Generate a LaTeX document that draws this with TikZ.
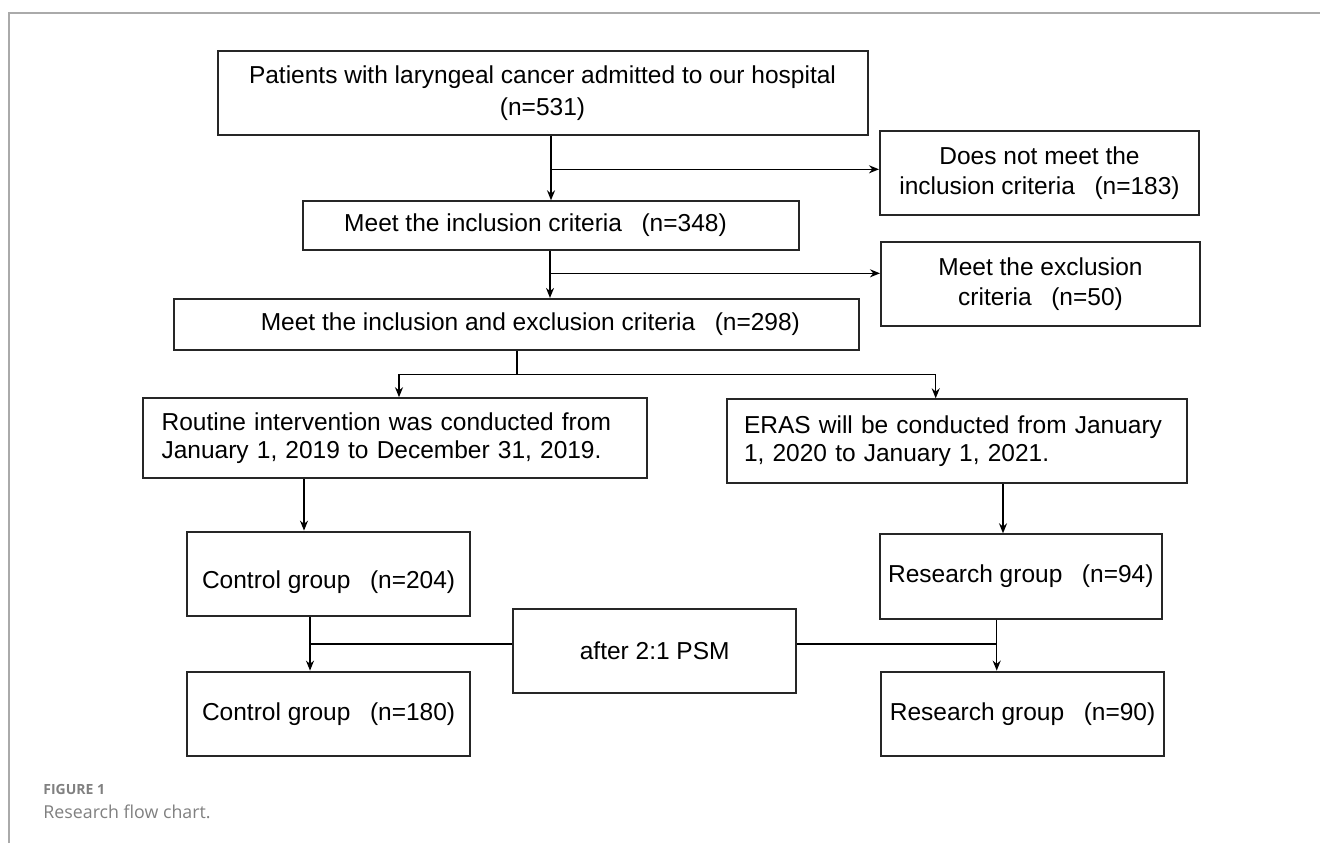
\documentclass[tikz,border=0pt]{standalone}
\usepackage{fontspec}
\setmainfont{Liberation Sans}
\newfontfamily\capfont{Open Sans}
\usetikzlibrary{arrows.meta}
\definecolor{framegray}{HTML}{AAAAAA}
\definecolor{capgray}{HTML}{808080}
\newcommand{\gapn}{\hspace{0.8em}}

\begin{document}
\begin{tikzpicture}[x=0.5pt,y=-0.5pt,
  >={Stealth[length=5pt,width=4pt]},
  every node/.style={font=\fontsize{12.25}{15}\selectfont},
  box/.style={draw=black!85,line width=1pt,inner sep=0pt,align=center},
  grp/.style={box,minimum width=141.3pt,minimum height=42.2pt},
  flow/.style={line width=0.75pt}]
\useasboundingbox (0,0) rectangle (1320,843);
\draw[framegray,line width=0.8pt] (9,843) -- (9,12.7) -- (1320,12.7);
% screening
\node[box,minimum width=325pt,minimum height=42.2pt,font=\fontsize{12.25}{15.8}\selectfont] (adm) at (542.5,92.9) {Patients with laryngeal cancer admitted to our hospital\\(n=531)};
\node[box,minimum width=159.5pt,minimum height=41.9pt] (noinc) at (1039.5,173.2) {Does not meet the\\inclusion criteria\gapn(n=183)};
\node[box,minimum width=248pt,minimum height=24.2pt] (inc) at (550.5,225.5) {Meet the inclusion criteria\gapn(n=348)\hspace{15pt}};
\node[box,minimum width=159.5pt,minimum height=42.2pt] (exc) at (1040.5,283.8) {Meet the exclusion\\criteria\gapn(n=50)};
\node[box,minimum width=342.6pt,minimum height=25.4pt] (both) at (516.4,324.3) {\hspace{14pt}Meet the inclusion and exclusion criteria\gapn(n=298)};
% periods
\node[box,text width=233.2pt,inner xsep=9.5pt,minimum height=40pt,align=left,font=\fontsize{12.25}{14.2}\selectfont] (rout) at (394.8,438.2) {Routine intervention was conducted from\\January 1, 2019 to December 31, 2019.};
\node[box,text width=213pt,inner xsep=8.5pt,minimum height=42pt,align=left,font=\fontsize{12.25}{14.2}\selectfont] (eras) at (957,441.3) {ERAS will be conducted from January\\1, 2020 to January 1, 2021.};
% groups
\node[grp,text height=17pt,text depth=2.6pt] (ctl1) at (328.6,573.8) {Control group\gapn(n=204)};
\node[grp] (res1) at (1020.8,576.5) {Research group\gapn(n=94)};
\node[grp] (psm) at (654.7,650.7) {after 2:1 PSM};
\node[grp] (ctl2) at (328.6,713.8) {Control group\gapn(n=180)};
\node[grp] (res2) at (1022.6,713.8) {Research group\gapn(n=90)};
% junctions
\coordinate (j1) at (551,169.3);
\coordinate (j2) at (550,273.3);
\coordinate (sp) at (516.8,374.3);
\coordinate (spl) at (399,374.3);
\coordinate (spr) at (935.7,374.3);
\coordinate (c1) at (304,0);
\coordinate (c2) at (1003,0);
\coordinate (c3) at (310,644);
\coordinate (c4) at (996.7,644);
\draw[flow,->] (adm.south -| j1) -- (inc.north -| j1);
\draw[flow,->] (j1) -- (j1 -| noinc.west);
\draw[flow,->] (inc.south -| j2) -- (both.north -| j2);
\draw[flow,->] (j2) -- (j2 -| exc.west);
\draw[flow] (both.south -| sp) -- (sp);
\draw[flow,->] (sp) -- (spl) -- (spl |- rout.north);
\draw[flow,->] (sp) -- (spr) -- (spr |- eras.north);
\draw[flow,->] (rout.south -| c1) -- (ctl1.north -| c1);
\draw[flow,->] (eras.south -| c2) -- (res1.north -| c2);
\draw[flow,->] (ctl1.south -| c3) -- (ctl2.north -| c3);
\draw[flow,->] (res1.south -| c4) -- (res2.north -| c4);
\draw[flow] (psm.west |- c3) -- (c3);
\draw[flow] (psm.east |- c4) -- (c4);
% caption
\node[anchor=west,inner sep=0pt,text=capgray,font=\capfont\bfseries\fontsize{7}{8}\selectfont] (fig) at (43,789) {FIGURE 1};
\node[anchor=west,inner sep=0pt,text=capgray,font=\capfont\fontsize{8.9}{10}\selectfont] (cap) at (43,811.7) {Research flow chart.};
\end{tikzpicture}
\end{document}
